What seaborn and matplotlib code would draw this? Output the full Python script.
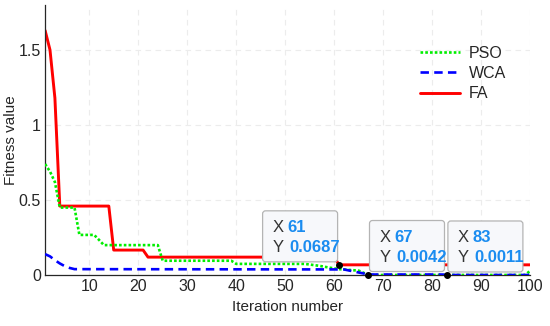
import pandas as pd
import matplotlib
matplotlib.use("Agg")
import matplotlib.pyplot as plt
import matplotlib.transforms as mtransforms
from matplotlib.patches import FancyBboxPatch
import seaborn as sns

# vertices (iteration, fitness)
pso_iter = [1, 2, 3, 4, 7, 8, 11, 12, 13, 24, 25, 39, 40, 54, 57, 59, 61, 65, 67, 99, 100]
pso_val = [0.74, 0.69, 0.62, 0.45, 0.45, 0.268, 0.268, 0.235, 0.2, 0.2, 0.096, 0.096,
           0.075, 0.075, 0.062, 0.05, 0.04, 0.03, 0.0011, 0.0011, 0.03]

wca_iter = [1, 2, 3, 4, 5, 6, 7, 62, 67, 82, 83, 100]
wca_val = [0.14, 0.125, 0.1, 0.078, 0.06, 0.048, 0.04, 0.038, 0.0042, 0.0042, 0.0011, 0.0011]

fa_iter = [1, 2, 3, 4, 14, 15, 21, 22, 60, 61, 100]
fa_val = [1.63, 1.5, 1.18, 0.46, 0.46, 0.167, 0.167, 0.12, 0.12, 0.0687, 0.0687]

# data tips
tip_x = [61, 67, 83]
tip_y = [0.0687, 0.0042, 0.0011]
tip_side = ["left", "right", "right"]

sns.set_style("white")
plt.rcParams["font.family"] = ["Liberation Sans", "DejaVu Sans"]

fig = plt.figure(figsize=(5.5, 3.26), dpi=100)
ax = fig.add_axes([0.082, 0.156, 0.882, 0.829])

pso = pd.DataFrame({"iter": pso_iter, "value": pso_val})
wca = pd.DataFrame({"iter": wca_iter, "value": wca_val})
fa = pd.DataFrame({"iter": fa_iter, "value": fa_val})

sns.lineplot(data=pso, x="iter", y="value", ax=ax, color="#00ee00", linewidth=1.9,
             linestyle=(0, (1, 0.8)), label="PSO", zorder=3)
sns.lineplot(data=wca, x="iter", y="value", ax=ax, color="#0000ff", linewidth=1.9,
             linestyle=(0, (3.2, 2.0)), label="WCA", zorder=3)
sns.lineplot(data=fa, x="iter", y="value", ax=ax, color="#ff0000", linewidth=2.1,
             label="FA", zorder=2)

ax.set_xlim(1, 100)
ax.set_ylim(0, 1.8)
ax.set_xticks(range(10, 101, 10))
ax.set_yticks([0, 0.5, 1, 1.5])
ax.set_yticklabels(["0", "0.5", "1", "1.5"])
ax.grid(True, color="#ececec", linestyle=(0, (5, 4)), linewidth=0.8)
ax.set_axisbelow(True)
for s in ["top", "right"]:
    ax.spines[s].set_visible(False)
for s in ["left", "bottom"]:
    ax.spines[s].set_color("#262626")
    ax.spines[s].set_linewidth(0.9)
ax.tick_params(direction="in", length=4, width=0.9, colors="#262626",
               labelsize=11.5, labelcolor="#262626", pad=3)
ax.set_xlabel("Iteration number", fontsize=11, color="#262626", labelpad=4)
ax.set_ylabel("Fitness value", fontsize=11, color="#262626")
ax.yaxis.set_label_coords(-0.056, 0.5)

ax.legend(frameon=False, loc="upper left", bbox_to_anchor=(0.772, 0.848),
          handlelength=2.5, fontsize=11.5, labelspacing=0.32, borderaxespad=0,
          handletextpad=0.6, borderpad=0)

# data tips (sizes in inches, relative to the point)
bw, bh = 0.75, 0.51
for x, y, side in zip(tip_x, tip_y, tip_side):
    trans = fig.dpi_scale_trans + mtransforms.ScaledTranslation(x, y, ax.transData)
    x0 = -bw - 0.015 if side == "left" else 0.01
    y0 = 0.03
    box = FancyBboxPatch((x0, y0), bw, bh, boxstyle="round,pad=0,rounding_size=0.03",
                         transform=trans, facecolor="#f7f8fb", edgecolor="#b4b4b4",
                         linewidth=0.9, zorder=6, clip_on=False)
    ax.add_patch(box)
    ax.text(x0 + 0.1, y0 + bh - 0.17, "X", transform=trans, fontsize=12,
            color="#333333", va="center", zorder=7)
    ax.text(x0 + 0.245, y0 + bh - 0.17, f"{x}", transform=trans, fontsize=12,
            color="#1a8cf0", fontweight="bold", va="center", zorder=7)
    ax.text(x0 + 0.1, y0 + bh - 0.37, "Y", transform=trans, fontsize=12,
            color="#333333", va="center", zorder=7)
    ax.text(x0 + 0.265, y0 + bh - 0.37, f"{y}", transform=trans, fontsize=12,
            color="#1a8cf0", fontweight="bold", va="center", zorder=7)
    ax.plot([x], [y], "o", color="black", markersize=4, zorder=8, clip_on=False)

fig.savefig("out.png", dpi=100)
